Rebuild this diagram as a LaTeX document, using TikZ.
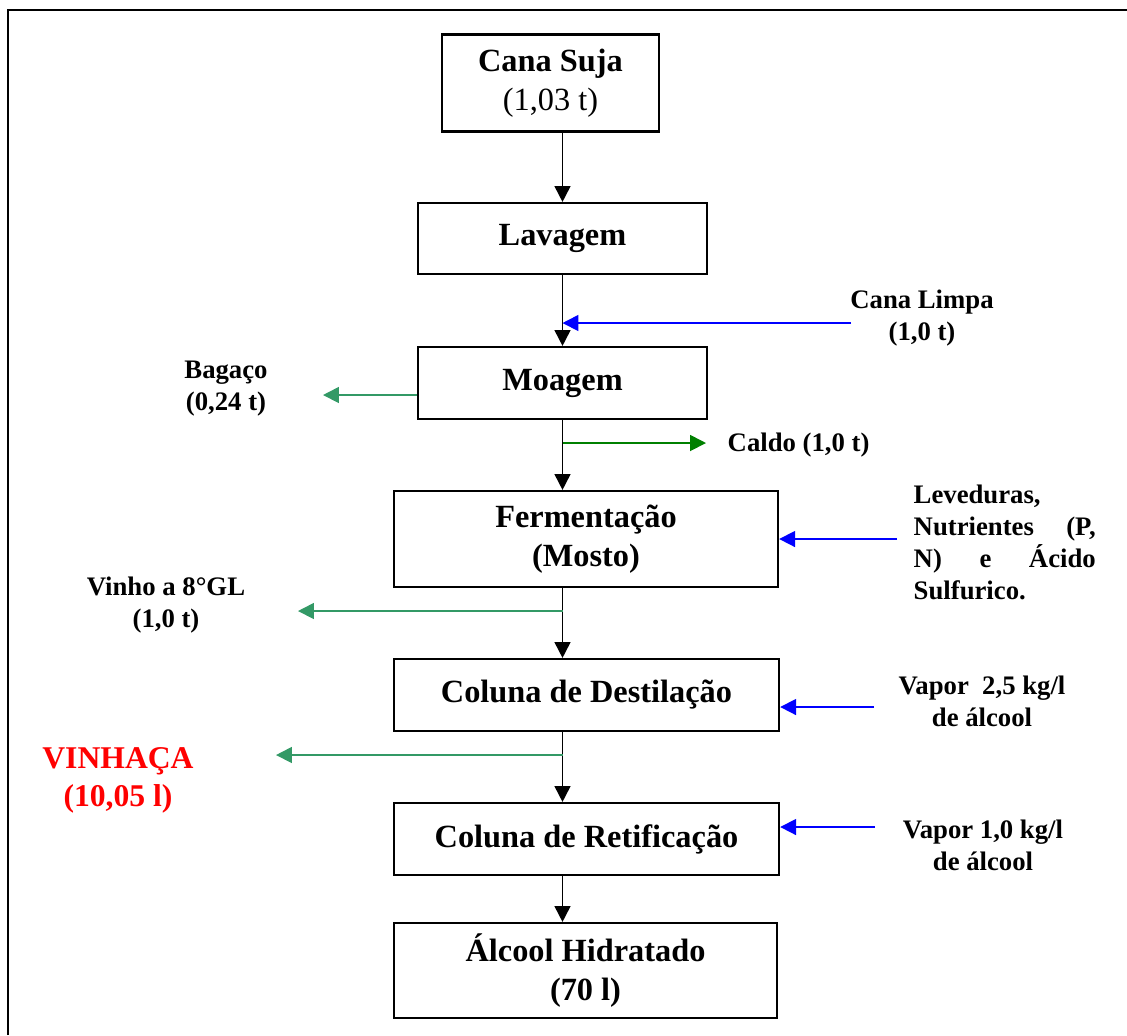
\documentclass[tikz,border=0pt]{standalone}
\usepackage{fontspec}
\setmainfont{Liberation Serif}
\usetikzlibrary{arrows.meta}
\definecolor{outgreen}{HTML}{339966}
\definecolor{caldogreen}{HTML}{008000}
\definecolor{inblue}{HTML}{0000FF}
\definecolor{vinred}{HTML}{FF0000}
\begin{document}
\begin{tikzpicture}[x=0.01cm,y=-0.01cm,
  >={Triangle[length=4.5pt,width=4.5pt]},
  stepbox/.style={draw,line width=0.6pt,inner sep=0pt,align=center,
    font=\fontsize{9.2}{11}\selectfont\bfseries},
  sidelabel/.style={inner sep=0pt,align=center,
    font=\fontsize{7.6}{9.1}\selectfont\bfseries},
  flow/.style={->,line width=0.5pt},
  feed/.style={->,line width=0.5pt,color=inblue},
  outflow/.style={->,line width=0.5pt,color=outgreen},
  caldoflow/.style={->,line width=0.5pt,color=caldogreen}]
\useasboundingbox (0,0) rectangle (1127,1035);

% page frame
\draw[line width=0.6pt] (8,1035) -- (8,10) -- (1127,10);

% process steps
\node[stepbox,minimum width=2.17cm,minimum height=0.97cm] (suja) at (550.5,83)
  {Cana Suja\\{\mdseries (1,03 t)}};
\node[stepbox,minimum width=2.89cm,minimum height=0.71cm] (lav) at (562.5,238.5) {Lavagem};
\node[stepbox,minimum width=2.89cm,minimum height=0.72cm] (moa) at (562.5,383) {Moagem};
\node[stepbox,minimum width=3.84cm,minimum height=0.96cm] (ferm) at (586,539)
  {Fermentação\\(Mosto)};
\node[stepbox,minimum width=3.85cm,minimum height=0.72cm] (dest) at (586.5,695)
  {Coluna de Destilação};
\node[stepbox,minimum width=3.85cm,minimum height=0.72cm] (ret) at (586.5,839)
  {Coluna de Retificação};
\node[stepbox,minimum width=3.83cm,minimum height=0.95cm] (alc) at (585.5,970.5)
  {Álcool Hidratado\\(70 l)};

% main line
\draw[flow] (suja.south -| lav.north) -- (lav.north);
\draw[flow] (lav.south) -- (moa.north);
\draw[flow] (moa.south) -- (moa.south |- ferm.north);
\draw[flow] (ferm.south -| moa.south) -- (moa.south |- dest.north);
\draw[flow] (dest.south -| moa.south) -- (moa.south |- ret.north);
\draw[flow] (ret.south -| moa.south) -- (moa.south |- alc.north);

% inputs and outputs
\node[sidelabel] (limpa) at (922,318) {Cana Limpa\\(1,0 t)};
\node[sidelabel] (bagaco) at (226,389) {Bagaço\\(0,24 t)};
\node[sidelabel,anchor=west] (caldo) at (727,445) {Caldo (1,0 t)};
\node[sidelabel,anchor=west,align=left] (lev) at (913,542)
  {Leveduras,\\\hbox to 1.82cm{Nutrientes\hfill(P,}\\\hbox to 1.82cm{N)\hfill e\hfill Ácido}\\Sulfurico.};
\node[sidelabel] (vinho) at (166,605) {Vinho a 8°GL\\(1,0 t)};
\node[sidelabel] (vapa) at (982,701) {Vapor\ \ 2,5 kg/l\\de álcool};
\node[sidelabel,text=vinred,font=\fontsize{9}{10.8}\selectfont\bfseries] (vinhaca) at (118,780)
  {VINHAÇA\\(10,05 l)};
\node[sidelabel] (vapb) at (983,845) {Vapor 1,0 kg/l\\de álcool};

\coordinate (limpaTail) at (851,323);
\coordinate (bagTip) at (323,395);
\coordinate (caldoTip) at (706,443);
\coordinate (levTail) at (897,539);
\coordinate (vinhoTip) at (298,611);
\coordinate (vapaTail) at (874,707);
\coordinate (vinhacaTip) at (276,755);
\coordinate (vapbTail) at (875,827);

\draw[feed] (limpaTail) -- (limpaTail -| lav.south);
\draw[outflow] (moa.west |- bagTip) -- (bagTip);
\draw[caldoflow] (caldoTip -| moa.south) -- (caldoTip);
\draw[feed] (levTail) -- (levTail -| ferm.east);
\draw[outflow] (vinhoTip -| moa.south) -- (vinhoTip);
\draw[feed] (vapaTail) -- (vapaTail -| dest.east);
\draw[outflow] (vinhacaTip -| moa.south) -- (vinhacaTip);
\draw[feed] (vapbTail) -- (vapbTail -| ret.east);
\end{tikzpicture}
\end{document}
